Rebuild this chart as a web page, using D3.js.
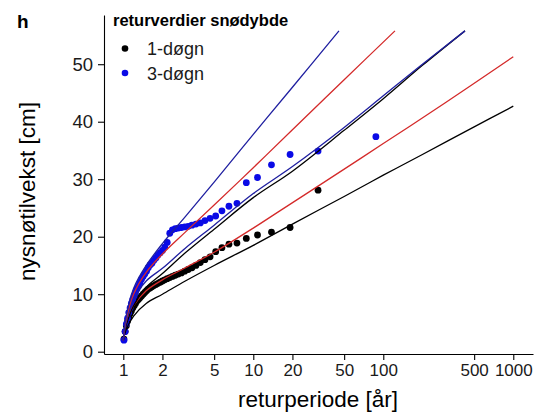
<!DOCTYPE html>
<html><head><meta charset="utf-8">
<script src="https://cdn.jsdelivr.net/npm/d3@7"></script>
<style>body{margin:0;background:#fff}svg{display:block}text{font-family:"Liberation Sans",Arial,sans-serif}</style>
</head><body><svg id="c" width="540" height="416"></svg>
<script>
// Return periods (plotting positions) for rank 1..49
const returnPeriods = [87.71,31.49,19.19,13.80,10.77,8.835,7.488,6.497,5.738,5.138,4.652,4.249,3.911,3.622,3.374,3.157,2.966,2.797,2.647,2.511,2.389,2.278,2.177,2.085,2.000,1.922,1.849,1.782,1.720,1.661,1.607,1.556,1.509,1.463,1.421,1.381,1.343,1.307,1.273,1.241,1.211,1.182,1.154,1.128,1.102,1.078,1.055,1.033,1.0115];
const oneDay = [null,28.1,21.6,20.8,20.3,19.7,18.9,18.7,18.1,17.4,16.5,16.0,15.5,15.0,14.6,14.3,14.0,13.7,13.5,13.3,13.1,12.9,12.7,12.5,12.3,12.1,11.9,11.7,11.5,11.3,11.1,10.9,10.6,10.3,10.0,9.7,9.4,9.1,8.8,8.4,8.0,7.6,7.1,6.6,6.0,5.3,4.5,3.5,2.2];
const threeDay = [37.4,34.9,34.3,32.5,30.3,29.4,25.8,25.3,24.5,23.6,23.2,22.8,22.4,22.2,22.0,21.8,21.7,21.6,21.5,21.4,21.2,20.6,19.0,18.2,17.6,17.2,16.8,16.3,15.9,15.4,15.1,14.6,14.0,13.5,13.1,12.6,12.0,11.4,10.9,10.3,9.7,9.1,8.4,7.6,6.8,5.8,4.8,3.5,2.0];

// Fitted curves: return periods and values
const lineA_T = [1.0,1.05,1.2,1.5,2,3,5,10,20,45.6];
const lineA_v = [2,6,11,15,18.8,23.5,29.5,37.8,46.0,55.8];
const lineB_T = [1.0,1.05,1.2,1.5,2,3,5,10,20,50,123];
const lineB_v = [2,5.5,10,13.8,17.0,20.8,25.5,32.0,38.6,47.3,55.8];
const lineCb_T = [1.0,1.05,1.2,1.5,2,3,5,10,20,50,100,200,425];
const lineCb_v = [2,5,9,12.3,14.5,18.0,22.0,27.5,32.2,39.0,44.5,50.0,55.8];
const lineCk_T = [1.0,1.05,1.2,1.5,2,3,5,10,20,50,100,200,425];
const lineCk_v = [2,4.5,8.0,11.2,13.6,17.2,21.3,26.8,31.4,38.5,44.0,49.8,55.8];
const lineD_T = [1.0,1.05,1.2,1.5,2,3,5,10,16,31.5,100,300,1000];
const lineD_v = [2,4.8,8.0,10.6,12.5,14.6,17.3,21.5,24.5,28.8,36.2,43.3,51.3];
const lineE_T = [1.0,1.05,1.2,1.5,2,3,5,10,20,50,100,200,500,1000];
const lineE_v = [2,3.8,6.2,8.4,10.0,12.3,15.0,18.5,22.2,27.0,30.7,34.3,39.1,42.7];

const xTicks = [1,2,5,10,20,50,100,500,1000];
const yTicks = [0,10,20,30,40,50];

const BLUE_PT = "#0a0ae6", BLUE_LN = "#1f1fa0", RED_LN = "#d42a2a";

const svg = d3.select("#c");
const x = d3.scaleLog().domain([0.7105,1418]).range([104,533]);
const y = d3.scaleLinear().domain([-0.4,58.56]).range([354,15]);

// axes
const ax = svg.append("g").attr("transform","translate(0,354)")
  .call(d3.axisBottom(x).tickValues(xTicks).tickFormat(d3.format("d")).tickSize(6).tickPadding(4).tickSizeOuter(0));
ax.select(".domain").attr("stroke","#000").attr("stroke-width",1.1);
ax.selectAll(".tick line").attr("stroke","#000").attr("stroke-width",1.1);
ax.selectAll(".tick text").attr("font-size","17px").attr("fill","#1a1a1a").attr("font-family","Liberation Sans, Arial, sans-serif");

const ay = svg.append("g").attr("transform","translate(104,0)")
  .call(d3.axisLeft(y).tickValues(yTicks).tickSize(6).tickPadding(5).tickSizeOuter(0));
ay.select(".domain").attr("stroke","#000").attr("stroke-width",1.1);
ay.selectAll(".tick line").attr("stroke","#000").attr("stroke-width",1.1);
ay.selectAll(".tick text").attr("font-size","18.5px").attr("fill","#1a1a1a").attr("font-family","Liberation Sans, Arial, sans-serif");

// points
function pts(vals,color){
  const d = returnPeriods.map((t,i)=>[t,vals[i]]).filter(p=>p[1]!=null);
  svg.append("g").selectAll("circle").data(d).join("circle")
    .attr("cx",p=>x(p[0])).attr("cy",p=>y(p[1])).attr("r",3.4).attr("fill",color);
}
pts(oneDay,"#000");
pts(threeDay,BLUE_PT);

// lines
const line = d3.line().x(p=>x(p[0])).y(p=>y(p[1])).curve(d3.curveCatmullRom.alpha(0.5));
function ln(T,V,color){
  svg.append("path").datum(T.map((t,i)=>[t,V[i]])).attr("d",line)
    .attr("fill","none").attr("stroke",color).attr("stroke-width",1.3);
}
ln(lineE_T,lineE_v,"#000");
ln(lineD_T,lineD_v,RED_LN);
ln(lineCk_T,lineCk_v,"#000");
ln(lineCb_T,lineCb_v,BLUE_LN);
ln(lineB_T,lineB_v,RED_LN);
ln(lineA_T,lineA_v,BLUE_LN);

// titles
svg.append("text").attr("x",318).attr("y",407).attr("text-anchor","middle").attr("font-size","22.5px").attr("fill","#000").text("returperiode [år]");
svg.append("text").attr("transform","translate(35,191.5) rotate(-90)").attr("text-anchor","middle").attr("font-size","22.5px").attr("fill","#000").text("nysnøtilvekst [cm]");
svg.append("text").attr("x",17).attr("y",28.3).attr("font-size","19px").attr("font-weight","bold").attr("fill","#000").text("h");

// legend
const leg = svg.append("g");
leg.append("text").attr("x",113).attr("y",26).attr("font-size","16.5px").attr("font-weight","bold").text("returverdier snødybde");
const legItems = [{label:"1-døgn",color:"#000"},{label:"3-døgn",color:BLUE_PT}];
legItems.forEach((it,i)=>{
  leg.append("circle").attr("cx",125).attr("cy",48.5+i*24.5).attr("r",3.3).attr("fill",it.color);
  leg.append("text").attr("x",147).attr("y",55+i*25).attr("font-size","18px").attr("fill","#1a1a1a").text(it.label);
});
</script></body></html>
